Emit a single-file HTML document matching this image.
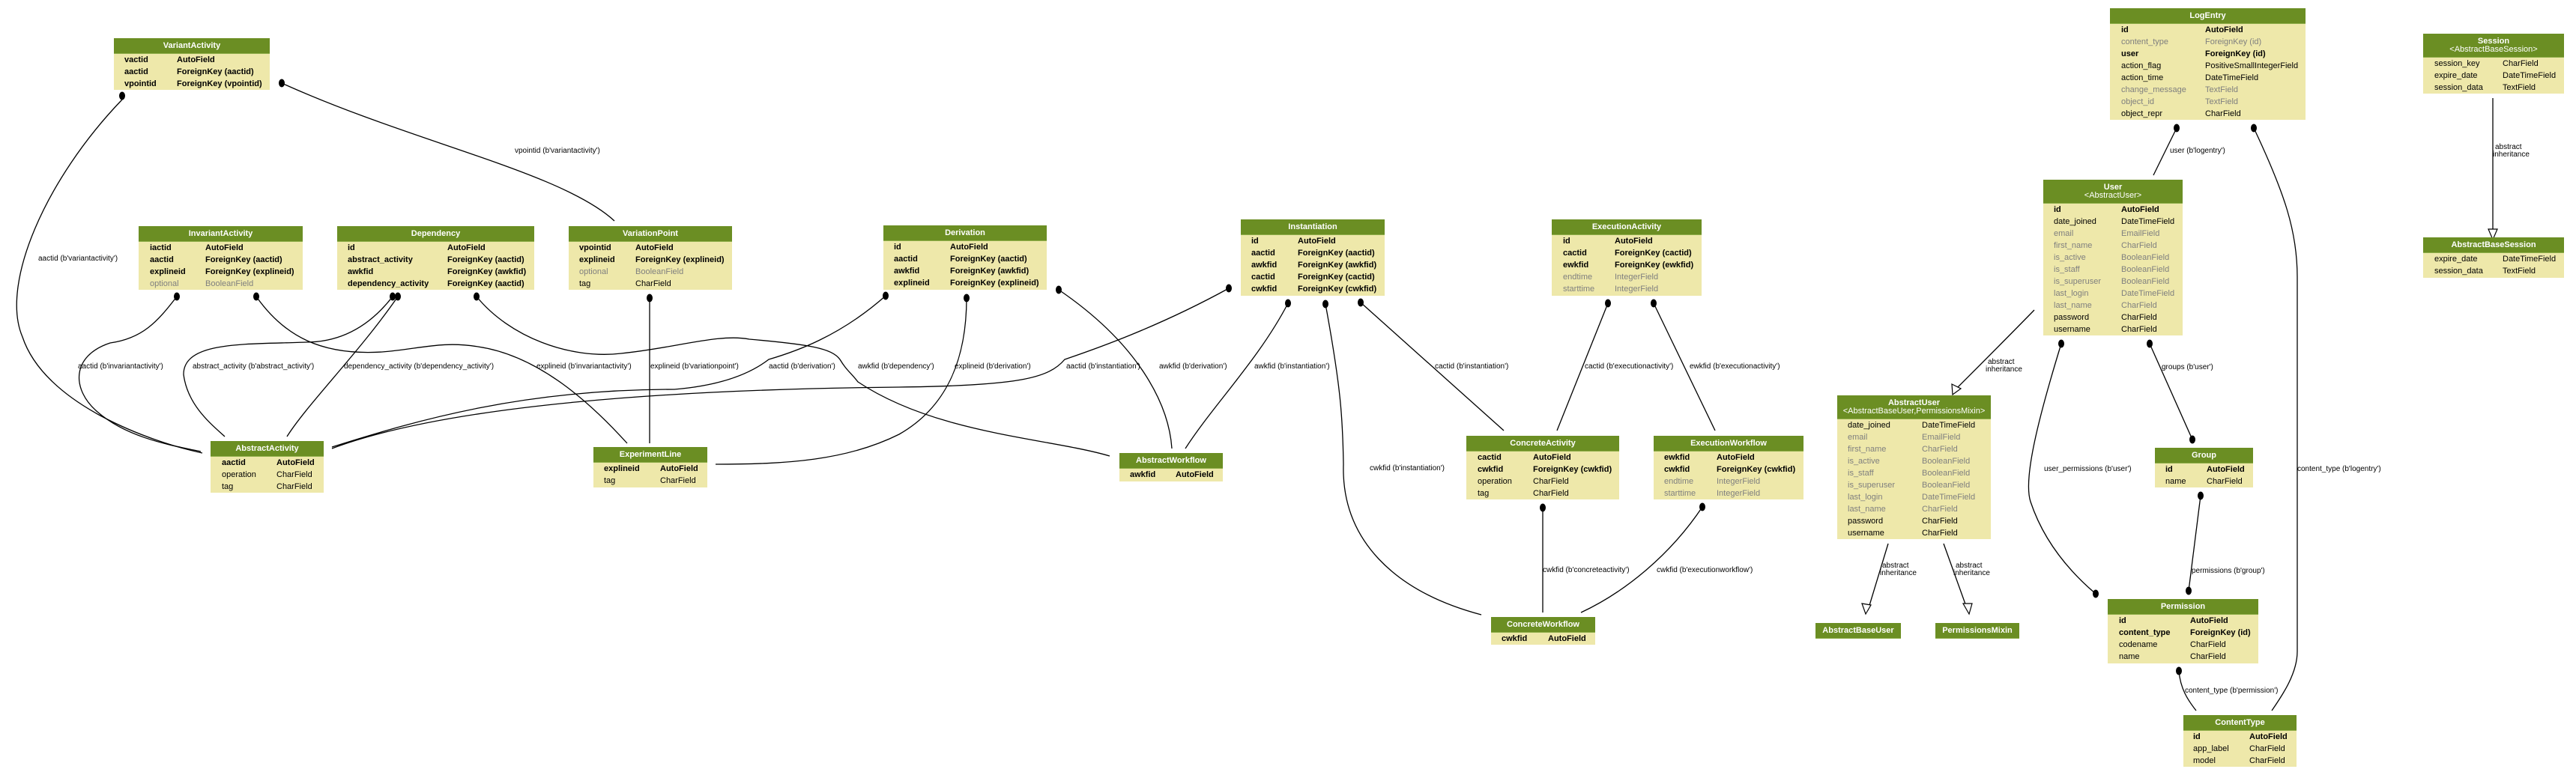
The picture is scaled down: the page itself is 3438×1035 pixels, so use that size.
<!DOCTYPE html>
<html><head><meta charset="utf-8"><style>
body{margin:0;width:3438px;height:1035px;background:#fff;position:relative;overflow:hidden;font-family:"Liberation Sans",sans-serif;}
.t{position:absolute;background:#eee8aa;font-size:11px;color:#000;}
.h{background:#6b8e23;color:#fff;font-weight:bold;text-align:center;height:21px;line-height:21px;font-size:11px;border-bottom:1px solid #8fae4a;box-sizing:border-box;}
.h2{height:32px;line-height:11px;padding-top:5px;}
.h2 span{font-weight:normal;}
.r{position:relative;height:16px;line-height:16px;white-space:nowrap;}
.r span{position:absolute;top:0;}
.b{font-weight:bold;}
.g{color:#7f7f7f;}
svg{position:absolute;left:0;top:0;}
svg text{font-family:"Liberation Sans",sans-serif;font-size:10px;fill:#000;}
</style></head><body>

<svg width="3438" height="1035" viewBox="0 0 3438 1035">
<g fill="none" stroke="#000" stroke-width="1.3">
<path d="M163,133 C60,240 0,380 30,450 C60,540 200,590 270,605"/>
<path d="M376,111 C550,190 750,230 820,295"/>
<path d="M236,396 C210,430 190,452 147,458 C95,475 95,520 130,550 C170,585 230,595 268,603"/>
<path d="M342,396 C380,450 430,475 510,470 C560,466 590,455 638,463 C720,475 790,540 837,592"/>
<path d="M524,396 C490,440 450,457 408,457 C330,460 245,455 245,500 C250,540 280,565 300,583"/>
<path d="M531,396 C480,470 410,540 383,583"/>
<path d="M636,396 C680,450 760,480 829,472 C900,465 960,445 1000,453 C1080,460 1110,465 1121,480 C1130,495 1135,497 1145,510 C1250,580 1400,585 1481,609"/>
<path d="M867,398 L867,592"/>
<path d="M1182,395 C1120,450 1060,470 1026,480 C1000,500 960,515 900,520 C700,520 560,560 443,597"/>
<path d="M1640,385 C1540,440 1450,470 1421,480 C1400,505 1360,515 1200,517 C900,520 600,540 443,599"/>
<path d="M1290,398 C1290,470 1270,540 1200,580 C1130,615 1050,620 955,620"/>
<path d="M1413,387 C1520,460 1560,540 1564,599"/>
<path d="M1719,405 C1680,480 1620,540 1582,599"/>
<path d="M1769,406 C1790,520 1792,560 1793,620 C1790,720 1860,790 1977,821"/>
<path d="M1816,404 L2007,575"/>
<path d="M2146,405 L2078,575"/>
<path d="M2207,405 L2289,575"/>
<path d="M2059,678 L2059,818"/>
<path d="M2272,677 C2230,740 2170,790 2110,818"/>
<path d="M2905,171 L2874,234"/>
<path d="M3008,171 C3050,260 3066,310 3066,370 L3066,870 C3066,900 3045,930 3032,949"/>
<path d="M2715,414 C2680,450 2650,480 2612,518"/>
<path d="M2751,459 C2720,560 2700,640 2710,670 C2730,730 2770,770 2797,793"/>
<path d="M2869,459 L2926,587"/>
<path d="M2937,662 L2921,789"/>
<path d="M2908,896 C2910,920 2920,935 2931,949"/>
<path d="M2520,726 L2493,815"/>
<path d="M2594,726 L2626,815"/>
<path d="M3327,131 L3327,311"/>
</g>
<g fill="#fff" stroke="#000" stroke-width="1.2">
<polygon points="2605,513 2617,519 2606,527"/>
<polygon points="2485,806 2497,808 2490,820"/>
<polygon points="2620,806 2632,806 2628,820"/>
<polygon points="3321,306 3333,306 3327,320"/>
</g>
<g fill="#000">
<ellipse cx="163" cy="128" rx="4" ry="5.5"/>
<ellipse cx="376" cy="111" rx="4" ry="5.5"/>
<ellipse cx="236" cy="396" rx="4" ry="5.5"/>
<ellipse cx="342" cy="396" rx="4" ry="5.5"/>
<ellipse cx="524" cy="396" rx="4" ry="5.5"/>
<ellipse cx="531" cy="396" rx="4" ry="5.5"/>
<ellipse cx="636" cy="396" rx="4" ry="5.5"/>
<ellipse cx="867" cy="398" rx="4" ry="5.5"/>
<ellipse cx="1182" cy="395" rx="4" ry="5.5"/>
<ellipse cx="1290" cy="398" rx="4" ry="5.5"/>
<ellipse cx="1413" cy="387" rx="4" ry="5.5"/>
<ellipse cx="1640" cy="385" rx="4" ry="5.5"/>
<ellipse cx="1719" cy="405" rx="4" ry="5.5"/>
<ellipse cx="1769" cy="406" rx="4" ry="5.5"/>
<ellipse cx="1816" cy="404" rx="4" ry="5.5"/>
<ellipse cx="2146" cy="405" rx="4" ry="5.5"/>
<ellipse cx="2207" cy="405" rx="4" ry="5.5"/>
<ellipse cx="2059" cy="678" rx="4" ry="5.5"/>
<ellipse cx="2272" cy="677" rx="4" ry="5.5"/>
<ellipse cx="2905" cy="171" rx="4" ry="5.5"/>
<ellipse cx="3008" cy="171" rx="4" ry="5.5"/>
<ellipse cx="2751" cy="459" rx="4" ry="5.5"/>
<ellipse cx="2869" cy="459" rx="4" ry="5.5"/>
<ellipse cx="2797" cy="793" rx="4" ry="5.5"/>
<ellipse cx="2926" cy="587" rx="4" ry="5.5"/>
<ellipse cx="2937" cy="662" rx="4" ry="5.5"/>
<ellipse cx="2921" cy="789" rx="4" ry="5.5"/>
<ellipse cx="2908" cy="896" rx="4" ry="5.5"/>
</g>
<g>
<text x="51" y="348">aactid (b'variantactivity')</text>
<text x="687" y="204">vpointid (b'variantactivity')</text>
<text x="104" y="492">aactid (b'invariantactivity')</text>
<text x="257" y="492">abstract_activity (b'abstract_activity')</text>
<text x="459" y="492">dependency_activity (b'dependency_activity')</text>
<text x="716" y="492">explineid (b'invariantactivity')</text>
<text x="868" y="492">explineid (b'variationpoint')</text>
<text x="1026" y="492">aactid (b'derivation')</text>
<text x="1145" y="492">awkfid (b'dependency')</text>
<text x="1274" y="492">explineid (b'derivation')</text>
<text x="1423" y="492">aactid (b'instantiation')</text>
<text x="1547" y="492">awkfid (b'derivation')</text>
<text x="1674" y="492">awkfid (b'instantiation')</text>
<text x="1915" y="492">cactid (b'instantiation')</text>
<text x="2115" y="492">cactid (b'executionactivity')</text>
<text x="2255" y="492">ewkfid (b'executionactivity')</text>
<text x="1828" y="628">cwkfid (b'instantiation')</text>
<text x="2059" y="764">cwkfid (b'concreteactivity')</text>
<text x="2211" y="764">cwkfid (b'executionworkflow')</text>
<text x="2896" y="204">user (b'logentry')</text>
<text x="3066" y="629">content_type (b'logentry')</text>
<text x="2728" y="629">user_permissions (b'user')</text>
<text x="2885" y="493">groups (b'user')</text>
<text x="2925" y="765">permissions (b'group')</text>
<text x="2916" y="925">content_type (b'permission')</text>
<text x="2653" y="486">abstract</text><text x="2650" y="496">inheritance</text>
<text x="2512" y="758">abstract</text><text x="2509" y="768">inheritance</text>
<text x="2610" y="758">abstract</text><text x="2607" y="768">inheritance</text>
<text x="3330" y="199">abstract</text><text x="3327" y="209">inheritance</text>
</g>
</svg>

<div class="t" style="left:152px;top:51px;width:208px;height:69px"><div class="h">VariantActivity</div>
<div class="r b"><span style="left:14px">vactid</span><span style="left:84px">AutoField</span></div>
<div class="r b"><span style="left:14px">aactid</span><span style="left:84px">ForeignKey (aactid)</span></div>
<div class="r b"><span style="left:14px">vpointid</span><span style="left:84px">ForeignKey (vpointid)</span></div></div>

<div class="t" style="left:185px;top:302px;width:219px;height:85px"><div class="h">InvariantActivity</div>
<div class="r b"><span style="left:15px">iactid</span><span style="left:89px">AutoField</span></div>
<div class="r b"><span style="left:15px">aactid</span><span style="left:89px">ForeignKey (aactid)</span></div>
<div class="r b"><span style="left:15px">explineid</span><span style="left:89px">ForeignKey (explineid)</span></div>
<div class="r g"><span style="left:15px">optional</span><span style="left:89px">BooleanField</span></div></div>

<div class="t" style="left:450px;top:302px;width:263px;height:85px"><div class="h">Dependency</div>
<div class="r b"><span style="left:14px">id</span><span style="left:147px">AutoField</span></div>
<div class="r b"><span style="left:14px">abstract_activity</span><span style="left:147px">ForeignKey (aactid)</span></div>
<div class="r b"><span style="left:14px">awkfid</span><span style="left:147px">ForeignKey (awkfid)</span></div>
<div class="r b"><span style="left:14px">dependency_activity</span><span style="left:147px">ForeignKey (aactid)</span></div></div>

<div class="t" style="left:759px;top:302px;width:218px;height:85px"><div class="h">VariationPoint</div>
<div class="r b"><span style="left:14px">vpointid</span><span style="left:89px">AutoField</span></div>
<div class="r b"><span style="left:14px">explineid</span><span style="left:89px">ForeignKey (explineid)</span></div>
<div class="r g"><span style="left:14px">optional</span><span style="left:89px">BooleanField</span></div>
<div class="r"><span style="left:14px">tag</span><span style="left:89px">CharField</span></div></div>

<div class="t" style="left:281px;top:589px;width:151px;height:69px"><div class="h">AbstractActivity</div>
<div class="r b"><span style="left:15px">aactid</span><span style="left:88px">AutoField</span></div>
<div class="r"><span style="left:15px">operation</span><span style="left:88px">CharField</span></div>
<div class="r"><span style="left:15px">tag</span><span style="left:88px">CharField</span></div></div>

<div class="t" style="left:792px;top:597px;width:152px;height:54px"><div class="h">ExperimentLine</div>
<div class="r b"><span style="left:14px">explineid</span><span style="left:89px">AutoField</span></div>
<div class="r"><span style="left:14px">tag</span><span style="left:89px">CharField</span></div></div>

<div class="t" style="left:1179px;top:301px;width:218px;height:86px"><div class="h">Derivation</div>
<div class="r b"><span style="left:14px">id</span><span style="left:89px">AutoField</span></div>
<div class="r b"><span style="left:14px">aactid</span><span style="left:89px">ForeignKey (aactid)</span></div>
<div class="r b"><span style="left:14px">awkfid</span><span style="left:89px">ForeignKey (awkfid)</span></div>
<div class="r b"><span style="left:14px">explineid</span><span style="left:89px">ForeignKey (explineid)</span></div></div>

<div class="t" style="left:1656px;top:293px;width:192px;height:102px"><div class="h">Instantiation</div>
<div class="r b"><span style="left:14px">id</span><span style="left:76px">AutoField</span></div>
<div class="r b"><span style="left:14px">aactid</span><span style="left:76px">ForeignKey (aactid)</span></div>
<div class="r b"><span style="left:14px">awkfid</span><span style="left:76px">ForeignKey (awkfid)</span></div>
<div class="r b"><span style="left:14px">cactid</span><span style="left:76px">ForeignKey (cactid)</span></div>
<div class="r b"><span style="left:14px">cwkfid</span><span style="left:76px">ForeignKey (cwkfid)</span></div></div>

<div class="t" style="left:1494px;top:605px;width:138px;height:38px"><div class="h">AbstractWorkflow</div>
<div class="r b"><span style="left:14px">awkfid</span><span style="left:75px">AutoField</span></div></div>

<div class="t" style="left:2071px;top:293px;width:200px;height:102px"><div class="h">ExecutionActivity</div>
<div class="r b"><span style="left:15px">id</span><span style="left:84px">AutoField</span></div>
<div class="r b"><span style="left:15px">cactid</span><span style="left:84px">ForeignKey (cactid)</span></div>
<div class="r b"><span style="left:15px">ewkfid</span><span style="left:84px">ForeignKey (ewkfid)</span></div>
<div class="r g"><span style="left:15px">endtime</span><span style="left:84px">IntegerField</span></div>
<div class="r g"><span style="left:15px">starttime</span><span style="left:84px">IntegerField</span></div></div>

<div class="t" style="left:1957px;top:582px;width:204px;height:85px"><div class="h">ConcreteActivity</div>
<div class="r b"><span style="left:15px">cactid</span><span style="left:89px">AutoField</span></div>
<div class="r b"><span style="left:15px">cwkfid</span><span style="left:89px">ForeignKey (cwkfid)</span></div>
<div class="r"><span style="left:15px">operation</span><span style="left:89px">CharField</span></div>
<div class="r"><span style="left:15px">tag</span><span style="left:89px">CharField</span></div></div>

<div class="t" style="left:2207px;top:582px;width:200px;height:85px"><div class="h">ExecutionWorkflow</div>
<div class="r b"><span style="left:14px">ewkfid</span><span style="left:84px">AutoField</span></div>
<div class="r b"><span style="left:14px">cwkfid</span><span style="left:84px">ForeignKey (cwkfid)</span></div>
<div class="r g"><span style="left:14px">endtime</span><span style="left:84px">IntegerField</span></div>
<div class="r g"><span style="left:14px">starttime</span><span style="left:84px">IntegerField</span></div></div>

<div class="t" style="left:1990px;top:824px;width:139px;height:37px"><div class="h">ConcreteWorkflow</div>
<div class="r b"><span style="left:14px">cwkfid</span><span style="left:76px">AutoField</span></div></div>

<div class="t" style="left:2816px;top:11px;width:261px;height:149px"><div class="h">LogEntry</div>
<div class="r b"><span style="left:15px">id</span><span style="left:127px">AutoField</span></div>
<div class="r g"><span style="left:15px">content_type</span><span style="left:127px">ForeignKey (id)</span></div>
<div class="r b"><span style="left:15px">user</span><span style="left:127px">ForeignKey (id)</span></div>
<div class="r"><span style="left:15px">action_flag</span><span style="left:127px">PositiveSmallIntegerField</span></div>
<div class="r"><span style="left:15px">action_time</span><span style="left:127px">DateTimeField</span></div>
<div class="r g"><span style="left:15px">change_message</span><span style="left:127px">TextField</span></div>
<div class="r g"><span style="left:15px">object_id</span><span style="left:127px">TextField</span></div>
<div class="r"><span style="left:15px">object_repr</span><span style="left:127px">CharField</span></div></div>

<div class="t" style="left:3234px;top:45px;width:188px;height:80px"><div class="h h2">Session<br><span>&lt;AbstractBaseSession&gt;</span></div>
<div class="r"><span style="left:15px">session_key</span><span style="left:106px">CharField</span></div>
<div class="r"><span style="left:15px">expire_date</span><span style="left:106px">DateTimeField</span></div>
<div class="r"><span style="left:15px">session_data</span><span style="left:106px">TextField</span></div></div>

<div class="t" style="left:3234px;top:317px;width:188px;height:54px"><div class="h">AbstractBaseSession</div>
<div class="r"><span style="left:15px">expire_date</span><span style="left:106px">DateTimeField</span></div>
<div class="r"><span style="left:15px">session_data</span><span style="left:106px">TextField</span></div></div>

<div class="t" style="left:2727px;top:240px;width:186px;height:208px"><div class="h h2">User<br><span>&lt;AbstractUser&gt;</span></div>
<div class="r b"><span style="left:14px">id</span><span style="left:104px">AutoField</span></div>
<div class="r"><span style="left:14px">date_joined</span><span style="left:104px">DateTimeField</span></div>
<div class="r g"><span style="left:14px">email</span><span style="left:104px">EmailField</span></div>
<div class="r g"><span style="left:14px">first_name</span><span style="left:104px">CharField</span></div>
<div class="r g"><span style="left:14px">is_active</span><span style="left:104px">BooleanField</span></div>
<div class="r g"><span style="left:14px">is_staff</span><span style="left:104px">BooleanField</span></div>
<div class="r g"><span style="left:14px">is_superuser</span><span style="left:104px">BooleanField</span></div>
<div class="r g"><span style="left:14px">last_login</span><span style="left:104px">DateTimeField</span></div>
<div class="r g"><span style="left:14px">last_name</span><span style="left:104px">CharField</span></div>
<div class="r"><span style="left:14px">password</span><span style="left:104px">CharField</span></div>
<div class="r"><span style="left:14px">username</span><span style="left:104px">CharField</span></div></div>

<div class="t" style="left:2452px;top:528px;width:205px;height:192px"><div class="h h2">AbstractUser<br><span>&lt;AbstractBaseUser,PermissionsMixin&gt;</span></div>
<div class="r"><span style="left:14px">date_joined</span><span style="left:113px">DateTimeField</span></div>
<div class="r g"><span style="left:14px">email</span><span style="left:113px">EmailField</span></div>
<div class="r g"><span style="left:14px">first_name</span><span style="left:113px">CharField</span></div>
<div class="r g"><span style="left:14px">is_active</span><span style="left:113px">BooleanField</span></div>
<div class="r g"><span style="left:14px">is_staff</span><span style="left:113px">BooleanField</span></div>
<div class="r g"><span style="left:14px">is_superuser</span><span style="left:113px">BooleanField</span></div>
<div class="r g"><span style="left:14px">last_login</span><span style="left:113px">DateTimeField</span></div>
<div class="r g"><span style="left:14px">last_name</span><span style="left:113px">CharField</span></div>
<div class="r"><span style="left:14px">password</span><span style="left:113px">CharField</span></div>
<div class="r"><span style="left:14px">username</span><span style="left:113px">CharField</span></div></div>

<div class="t" style="left:2423px;top:832px;width:114px;height:21px"><div class="h">AbstractBaseUser</div></div>
<div class="t" style="left:2583px;top:832px;width:112px;height:21px"><div class="h">PermissionsMixin</div></div>

<div class="t" style="left:2876px;top:598px;width:131px;height:53px"><div class="h">Group</div>
<div class="r b"><span style="left:14px">id</span><span style="left:69px">AutoField</span></div>
<div class="r"><span style="left:14px">name</span><span style="left:69px">CharField</span></div></div>

<div class="t" style="left:2813px;top:800px;width:201px;height:86px"><div class="h">Permission</div>
<div class="r b"><span style="left:15px">id</span><span style="left:110px">AutoField</span></div>
<div class="r b"><span style="left:15px">content_type</span><span style="left:110px">ForeignKey (id)</span></div>
<div class="r"><span style="left:15px">codename</span><span style="left:110px">CharField</span></div>
<div class="r"><span style="left:15px">name</span><span style="left:110px">CharField</span></div></div>

<div class="t" style="left:2914px;top:955px;width:151px;height:69px"><div class="h">ContentType</div>
<div class="r b"><span style="left:13px">id</span><span style="left:88px">AutoField</span></div>
<div class="r"><span style="left:13px">app_label</span><span style="left:88px">CharField</span></div>
<div class="r"><span style="left:13px">model</span><span style="left:88px">CharField</span></div></div>

</body></html>
